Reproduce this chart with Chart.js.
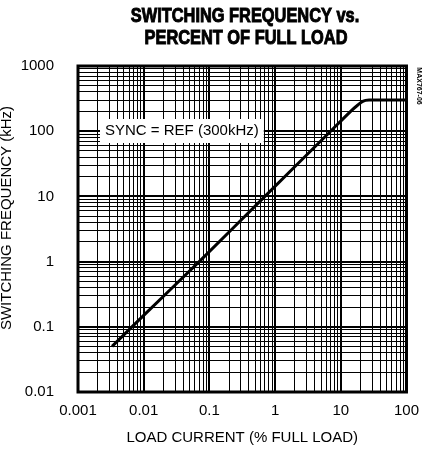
<!DOCTYPE html>
<html>
<head>
<meta charset="utf-8">
<script src="https://cdn.jsdelivr.net/npm/chart.js@4.4.1/dist/chart.umd.min.js"></script>
<style>
  html, body { margin: 0; padding: 0; background: #fff; }
  #wrap { width: 429px; height: 457px; }
</style>
</head>
<body>
<div id="wrap"><canvas id="chart" width="429" height="457"></canvas></div>
<script>
// load current (% full load) and switching frequency (kHz)
const loadCurrent = [0.0033, 0.01, 0.07, 0.7, 7, 14, 18, 22, 27, 40, 100];
const switchFreq  = [0.05, 0.15, 1.0, 10, 100, 200, 250, 290, 300, 300, 300];

const xDecades = [0.001, 0.01, 0.1, 1, 10, 100];
const yDecades = [0.01, 0.1, 1, 10, 100, 1000];
const xTickLabels = ['0.001', '0.01', '0.1', '1', '10', '100'];
const yTickLabels = ['0.01', '0.1', '1', '10', '100', '1000'];

const FONT = "'Liberation Sans', Arial, sans-serif";

function logTicks(decades) {
    const out = [];
    for (let i = 0; i < decades.length; i++) {
        out.push({ value: decades[i] });
        if (i < decades.length - 1) {
            for (let m = 2; m <= 9; m++) out.push({ value: decades[i] * m });
        }
    }
    return out;
}

function isDecade(v) {
    const l = Math.log10(v);
    return Math.abs(l - Math.round(l)) < 1e-6;
}

function labelFor(decades, labels) {
    return (v) => {
        const i = decades.findIndex(d => Math.abs(d - v) / d < 1e-6);
        return i >= 0 ? labels[i] : '';
    };
}

// heavy condensed title text
function squeezedText(ctx, txt, x, y, sx) {
    ctx.save();
    ctx.translate(x, y);
    ctx.scale(sx, 1);
    ctx.fillText(txt, 0, 0);
    ctx.strokeText(txt, 0, 0);
    ctx.restore();
}

const decorations = {
    id: 'decorations',
    afterDraw(chart) {
        const { ctx, chartArea: a } = chart;
        ctx.save();
        ctx.fillStyle = '#000';
        ctx.strokeStyle = '#000';
        ctx.lineWidth = 1;
        ctx.textAlign = 'center';
        ctx.textBaseline = 'middle';
        ctx.font = 'bold 21px ' + FONT;
        squeezedText(ctx, 'SWITCHING FREQUENCY vs.', 245, 16, 0.78);
        squeezedText(ctx, 'PERCENT OF FULL LOAD', 246, 38, 0.78);

        // y axis title
        ctx.save();
        ctx.translate(7, 218);
        ctx.rotate(-Math.PI / 2);
        ctx.font = '15px ' + FONT;
        ctx.fillText('SWITCHING FREQUENCY (kHz)', 0, 0);
        ctx.restore();

        // note box
        ctx.font = '15px ' + FONT;
        const txt = 'SYNC = REF (300kHz)';
        const w = ctx.measureText(txt).width;
        ctx.fillStyle = '#fff';
        ctx.fillRect(100, 119, w + 10, 24);
        ctx.fillStyle = '#000';
        ctx.textAlign = 'left';
        ctx.fillText(txt, 105, 131);

        // frame
        ctx.lineWidth = 3;
        ctx.strokeRect(a.left, a.top, a.right - a.left, a.bottom - a.top);

        // figure code
        ctx.translate(419, 86);
        ctx.rotate(Math.PI / 2);
        ctx.font = 'bold 7px ' + FONT;
        ctx.textAlign = 'center';
        ctx.fillText('MAX767-06', 0, 0);
        ctx.restore();
    }
};

new Chart(document.getElementById('chart'), {
    type: 'line',
    data: {
        datasets: [{
            data: loadCurrent.map((x, i) => ({ x: x, y: switchFreq[i] })),
            borderColor: '#000',
            borderWidth: 3,
            pointRadius: 0,
            tension: 0.3,
            fill: false
        }]
    },
    options: {
        responsive: false,
        animation: false,
        layout: { padding: { top: 66, right: 20, left: 0, bottom: 0 } },
        plugins: { legend: { display: false }, tooltip: { enabled: false }, title: { display: false } },
        scales: {
            x: {
                type: 'logarithmic',
                min: 0.001,
                max: 100,
                afterBuildTicks: (s) => { s.ticks = logTicks(xDecades); },
                afterFit: (s) => { s.height = 65; },
                ticks: {
                    autoSkip: false,
                    maxRotation: 0,
                    padding: 10,
                    color: '#000',
                    font: { family: FONT, size: 15 },
                    callback: labelFor(xDecades, xTickLabels)
                },
                grid: {
                    color: '#000',
                    drawTicks: false,
                    lineWidth: (c) => (c.tick && isDecade(c.tick.value)) ? 2 : 1
                },
                border: { display: false },
                title: {
                    display: true,
                    text: 'LOAD CURRENT (% FULL LOAD)',
                    color: '#000',
                    font: { family: FONT, size: 15 },
                    padding: { top: 4, bottom: 10 }
                }
            },
            y: {
                type: 'logarithmic',
                min: 0.01,
                max: 1000,
                afterBuildTicks: (s) => { s.ticks = logTicks(yDecades); },
                afterFit: (s) => { s.width = 78; },
                ticks: {
                    autoSkip: false,
                    padding: 24,
                    color: '#000',
                    font: { family: FONT, size: 15 },
                    callback: labelFor(yDecades, yTickLabels)
                },
                grid: {
                    color: '#000',
                    drawTicks: false,
                    lineWidth: (c) => (c.tick && isDecade(c.tick.value)) ? 2 : 1
                },
                border: { display: false }
            }
        }
    },
    plugins: [decorations]
});
</script>
</body>
</html>
